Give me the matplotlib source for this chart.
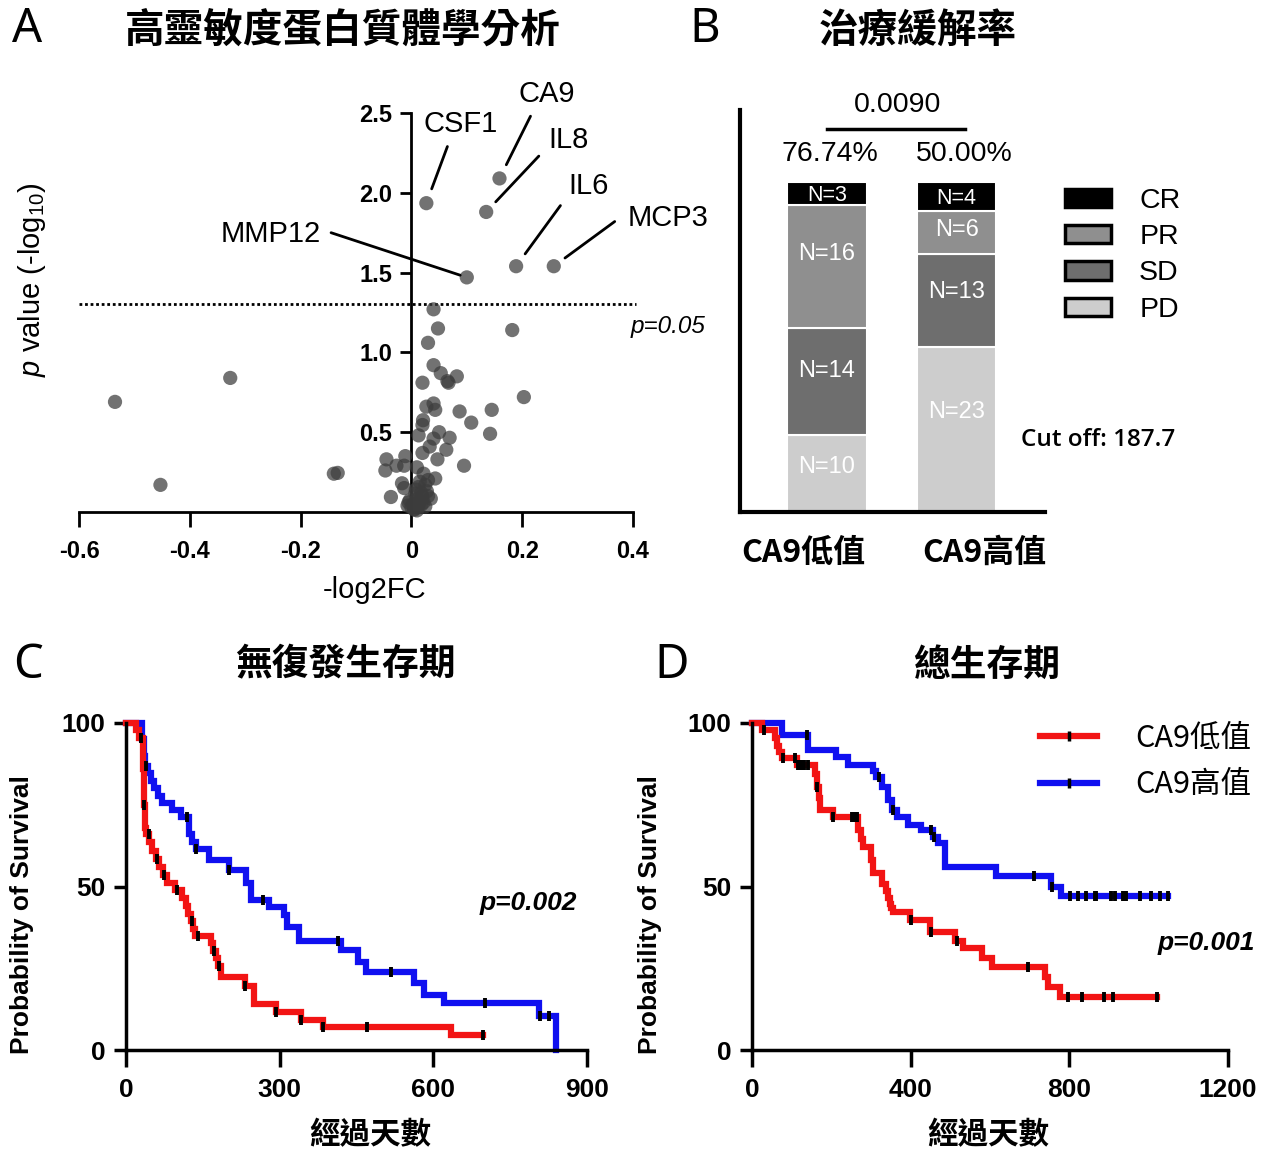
import numpy as np
import matplotlib
matplotlib.use("Agg")
import matplotlib.pyplot as plt
from matplotlib.patches import Patch
from matplotlib.lines import Line2D

# ---------------- data ----------------
# panel A: volcano (-log2FC, -log10 p)
vol_x = [0.027, 0.159, 0.135, 0.189, 0.257, 0.10, 0.04, 0.048, 0.03, 0.182,
         0.04, 0.053, 0.082, 0.065, 0.067, 0.02, 0.203, -0.535, -0.327, -0.453,
         -0.14, -0.133, 0.04, 0.027, 0.043, 0.087, 0.145, 0.108, 0.021, 0.02,
         0.142, 0.013, 0.05, 0.04, 0.069, 0.033, 0.063, 0.02, 0.047, 0.095,
         -0.045, -0.011, -0.047, -0.027, -0.013, 0.01, 0.022, 0.043, 0.015, -0.017,
         -0.013, -0.037, 0.035, -0.003, 0.007, 0.013, 0.003, -0.007, 0.02, 0.0,
         0.005, 0.01, 0.012, 0.018, 0.008, 0.025, 0.015, 0.03, 0.028,
         0.005, 0.012, 0.018, 0.022, 0.01, -0.005, 0.03, 0.025]
vol_y = [1.935, 2.09, 1.88, 1.54, 1.54, 1.47, 1.27, 1.15, 1.06, 1.14,
         0.92, 0.87, 0.85, 0.82, 0.81, 0.81, 0.72, 0.69, 0.84, 0.17,
         0.24, 0.245, 0.68, 0.66, 0.64, 0.63, 0.64, 0.56, 0.575, 0.545,
         0.49, 0.48, 0.50, 0.46, 0.465, 0.41, 0.39, 0.37, 0.33, 0.29,
         0.33, 0.35, 0.26, 0.29, 0.29, 0.28, 0.24, 0.21, 0.19, 0.18,
         0.15, 0.094, 0.084, 0.073, 0.115, 0.157, 0.05, 0.04, 0.094, 0.03,
         0.02, 0.01, 0.05, 0.12, 0.14, 0.17, 0.06, 0.2, 0.13,
         0.015, 0.03, 0.045, 0.06, 0.08, 0.06, 0.1, 0.035]
gene_names = ['CSF1', 'CA9', 'IL8', 'IL6', 'MCP3', 'MMP12']  # first six points

# panel B: response counts, bottom to top
groups = ['CA9低值', 'CA9高值']
resp_cats = ['PD', 'SD', 'PR', 'CR']
resp_low = [10, 14, 16, 3]
resp_high = [23, 13, 6, 4]
p_resp = '0.0090'
cutoff = 187.7

# panel C: relapse-free survival (days, % surviving)
rfs_low_t = [0, 19, 25, 33, 34, 35, 36, 37, 40, 45, 50, 58, 65, 72, 80, 95, 110,
             118, 122, 126, 130, 135, 165, 170, 175, 180, 186, 232, 250, 292, 341,
             384, 634, 697]
rfs_low_s = [100, 98, 95.5, 91, 86, 81, 75, 68, 66, 63.5, 61, 58.5, 56, 53.5, 51,
             49, 46.5, 44, 41.5, 39.5, 37, 35, 32.7, 30.4, 28.1, 25.8, 22.3, 19.5,
             14.2, 11.7, 9.3, 7.0, 4.5, 4.5]
rfs_low_cens = [30, 36, 44, 60, 75, 100, 128, 140, 172, 182, 232, 292, 341, 384, 471, 697]
rfs_high_t = [0, 32, 35, 38, 42, 48, 55, 62, 71, 90, 107, 123, 128, 136, 162, 201,
              234, 244, 279, 309, 315, 338, 420, 452, 468, 563, 582, 621, 806, 840]
rfs_high_s = [100, 95, 90, 87, 84.6, 82.3, 80, 77.7, 75.4, 73.4, 71.3, 66, 63.5,
              61.6, 58.1, 55, 51, 46, 43.8, 41.3, 37.7, 33.2, 30.6, 27, 24, 20.4,
              16.9, 14.3, 10.3, 0]
rfs_high_cens = [40, 120, 136, 201, 268, 413, 517, 701, 808, 825]

# panel D: overall survival
os_low_t = [0, 24, 58, 63, 68, 75, 113, 158, 163, 168, 172, 205, 268, 275, 281,
            301, 305, 327, 339, 343, 347, 351, 356, 398, 449, 512, 533, 579, 604,
            738, 747, 776, 1020]
os_low_s = [100, 97.9, 95.5, 93, 91, 89.2, 87.1, 84.5, 80.5, 77, 73.4, 71.3, 67.3,
            64.5, 62.2, 58, 54, 50.9, 48.5, 46.5, 44.5, 43.5, 42.3, 39.7, 36.2,
            33.2, 31.2, 28.1, 25.5, 22.4, 19.4, 16.3, 16.3]
os_low_cens = [29, 79, 108, 116, 124, 132, 140, 165, 205, 251, 258, 264, 402, 452,
               516, 697, 797, 831, 888, 911, 1020]
os_high_t = [0, 75, 142, 213, 243, 306, 313, 327, 343, 352, 365, 394, 427, 457,
             470, 487, 616, 755, 780, 1049]
os_high_s = [100, 96.3, 91.7, 89.7, 87.1, 85.3, 83.6, 80.5, 76.4, 73.4, 71.3, 68.8,
             67.3, 65.2, 63.2, 56.1, 53.3, 50, 47, 47]
os_high_cens = [138, 320, 355, 450, 460, 711, 757, 801, 822, 843, 864, 868, 906,
                915, 936, 944, 978, 1007, 1028, 1049]

# ---------------- style ----------------
plt.rcParams['font.family'] = ['Liberation Sans', 'Noto Sans CJK TC', 'DejaVu Sans']
plt.rcParams['mathtext.fontset'] = 'custom'
plt.rcParams['mathtext.rm'] = 'Liberation Sans'
plt.rcParams['mathtext.it'] = 'Liberation Sans:italic'
CJK = ['Noto Sans CJK TC', 'DejaVu Sans']
RED = '#f21414'
BLUE = '#1010f0'

W, H = 1262, 1157


def rect(l, t, r, b):
    return [l / W, 1 - b / H, (r - l) / W, (b - t) / H]


def fx(x):
    return x / W


def fy(y):
    return 1 - y / H


fig = plt.figure(figsize=(12.62, 11.57), dpi=100)

# panel letters and titles
for letter, (x, y) in zip('ABCD', [(27, 30), (705, 30), (28, 665), (672, 665)]):
    fig.text(fx(x), fy(y), letter, fontsize=34, family='Noto Sans', ha='center', va='center')
titles = ['高靈敏度蛋白質體學分析', '治療緩解率', '無復發生存期', '總生存期']
title_sizes = [28.5, 28.5, 26.5, 26.5]
for t, sz, (x, y) in zip(titles, title_sizes, [(343, 30), (918, 30), (345, 665), (987, 665)]):
    fig.text(fx(x), fy(y), t, fontsize=sz, family=CJK, weight='bold', ha='center', va='center')

# ---------------- A: volcano ----------------
axA = fig.add_axes(rect(79, 113, 633, 512))
axA.scatter(vol_x, vol_y, s=105, color='#3c3c3c', alpha=0.72, edgecolors='none',
            clip_on=False, zorder=3)
axA.set_xlim(-0.6, 0.4)
axA.set_ylim(0, 2.5)
axA.spines['top'].set_visible(False)
axA.spines['right'].set_visible(False)
axA.spines['left'].set_position(('data', 0))
for sp in ['left', 'bottom']:
    axA.spines[sp].set_linewidth(2)
axA.set_xticks([-0.6, -0.4, -0.2, 0, 0.2, 0.4])
axA.set_xticklabels(['-0.6', '-0.4', '-0.2', '0', '0.2', '0.4'])
axA.set_yticks([0.5, 1.0, 1.5, 2.0, 2.5])
axA.set_yticklabels(['0.5', '1.0', '1.5', '2.0', '2.5'])
axA.tick_params(axis='x', length=11, width=2, labelsize=17, pad=9)
axA.tick_params(axis='y', length=8, width=2, labelsize=17, pad=6)
for lb in axA.get_xticklabels() + axA.get_yticklabels():
    lb.set_fontweight('bold')
axA.axhline(-np.log10(0.05), xmin=0, xmax=1.005, color='k', lw=2, ls=(0, (1, 1)),
            clip_on=False)
axA.text(0.53, 1.16, 'p=0.05', style='italic', fontsize=17.5, ha='right', va='center')

# gene labels: (line start, text pos, text align, shrink at point)
label_style = {
    'CSF1': ((0.065, 2.29), (0.088, 2.43), 'center', 11),
    'CA9': ((0.215, 2.48), (0.245, 2.62), 'center', 11),
    'IL8': ((0.23, 2.23), (0.283, 2.33), 'center', 10),
    'IL6': ((0.269, 1.92), (0.32, 2.04), 'center', 11),
    'MCP3': ((0.367, 1.82), (0.39, 1.84), 'left', 10),
    'MMP12': ((-0.145, 1.75), (-0.164, 1.74), 'right', 5),
}
for i, g in enumerate(gene_names):
    start, tpos, ha, shr = label_style[g]
    axA.annotate('', xy=(vol_x[i], vol_y[i]), xytext=start,
                 arrowprops=dict(arrowstyle='-', lw=2, color='k', shrinkA=0, shrinkB=shr),
                 annotation_clip=False)
    axA.text(tpos[0], tpos[1], g, fontsize=21, ha=ha, va='center', clip_on=False)

fig.text(fx(375), fy(590), '-log2FC', fontsize=21, ha='center', va='center')
fig.text(fx(32), fy(280), r'$\it{p}$ value (-log$_{10}$)', fontsize=21, rotation=90,
         ha='center', va='center')

# ---------------- B: stacked response bars ----------------
axB = fig.add_axes(rect(740, 110, 1045, 512))
counts = np.array([resp_low, resp_high])
totals = counts.sum(axis=1)
pct = counts / totals[:, None] * 100
cat_colors = {'PD': '#cdcdcd', 'SD': '#6e6e6e', 'PR': '#8f8f8f', 'CR': '#000000'}
pos = np.arange(len(groups))
bottom = np.zeros(len(groups))
for j, cat in enumerate(resp_cats):
    axB.bar(pos, pct[:, j], 0.61, bottom=bottom, color=cat_colors[cat],
            edgecolor='white', linewidth=1.5)
    for i in range(len(groups)):
        h = pct[i, j]
        small = h < 10
        yc = bottom[i] + h / 2 + (0 if small else 0.12 * h)
        axB.text(pos[i], yc, f'N={counts[i, j]}', color='white',
                 fontsize=15.5 if small else 17, ha='center', va='center_baseline')
    bottom += pct[:, j]
axB.set_xlim(-0.67, 1.68)
axB.set_ylim(0, 121.8)
axB.set_xticks([])
axB.set_yticks([])
axB.spines['top'].set_visible(False)
axB.spines['right'].set_visible(False)
for sp in ['left', 'bottom']:
    axB.spines[sp].set_linewidth(3)

rate = (totals - counts[:, 0]) / totals * 100
for xp, r in zip([0.02, 1.06], rate):
    axB.text(xp, 108.5, f'{r:.2f}%', fontsize=20.5, ha='center', va='center')
axB.plot([0, 1.06], [116, 116], color='k', lw=2.5, clip_on=False)
axB.text(0.546, 123.2, p_resp, fontsize=20.5, ha='center', va='center', clip_on=False)
for xp, g in zip([-0.18, 1.215], groups):
    axB.text(xp, -12.4, g, fontsize=23, family=CJK, weight='bold', ha='center',
             va='center', clip_on=False)

leg_handles = [Patch(facecolor=cat_colors[c], edgecolor='k', linewidth=2.5, label=c)
               for c in ['CR', 'PR', 'SD', 'PD']]
axB.legend(handles=leg_handles, loc='upper left', bbox_to_anchor=(1.066, 324 / 402),
           frameon=False, fontsize=20.5, handlelength=1.6, handleheight=0.6,
           handletextpad=1.0, labelspacing=0.36, borderpad=0, borderaxespad=0)
fig.text(fx(1098), fy(440), f'Cut off: {cutoff}', fontsize=17.5, family='Open Sans',
         weight='semibold', ha='center', va='center')


# ---------------- C / D: Kaplan-Meier ----------------
def km(ax, t, s, cens, color):
    ax.step(t, s, where='post', color=color, lw=4.5, clip_on=False,
            solid_joinstyle='miter')
    t = np.asarray(t)
    s = np.asarray(s)
    idx = np.searchsorted(t, cens, side='right') - 1
    ax.plot(cens, s[idx], ls='none', marker='|', ms=7, mew=2.8, color='k',
            clip_on=False, zorder=4)


def km_axes(ax, xmax, xticks):
    ax.set_xlim(0, xmax)
    ax.set_ylim(0, 100)
    ax.set_xticks(xticks)
    ax.set_yticks([0, 50, 100])
    ax.spines['top'].set_visible(False)
    ax.spines['right'].set_visible(False)
    for sp in ['left', 'bottom']:
        ax.spines[sp].set_linewidth(2.5)
    ax.tick_params(axis='x', length=12, width=2.5, labelsize=19, pad=8)
    ax.tick_params(axis='y', length=9, width=2.5, labelsize=19, pad=6)
    for lb in ax.get_xticklabels() + ax.get_yticklabels():
        lb.set_fontweight('bold')


axC = fig.add_axes(rect(126, 723, 587, 1050))
km(axC, rfs_high_t, rfs_high_s, rfs_high_cens, BLUE)
km(axC, rfs_low_t, rfs_low_s, rfs_low_cens, RED)
km_axes(axC, 900, [0, 300, 600, 900])

axD = fig.add_axes(rect(752, 723, 1228, 1050))
km(axD, os_high_t, os_high_s, os_high_cens, BLUE)
km(axD, os_low_t, os_low_s, os_low_cens, RED)
km_axes(axD, 1200, [0, 400, 800, 1200])

km_handles = [Line2D([], [], color=RED, lw=4.5, marker='|', ms=7, mew=2.5, mec='k'),
              Line2D([], [], color=BLUE, lw=4.5, marker='|', ms=7, mew=2.5, mec='k')]
axD.legend(km_handles, groups, loc='upper left', bbox_to_anchor=(0.605, 1.0),
           frameon=False, prop={'family': CJK, 'size': 22}, handlelength=1.87,
           handletextpad=1.25, labelspacing=0.5, borderpad=0, borderaxespad=0,
           numpoints=1)

for x in [22, 650]:
    fig.text(fx(x), fy(915), 'Probability of Survival', fontsize=19, weight='bold',
             rotation=90, ha='center', va='center')
for x in [370, 988]:
    fig.text(fx(x), fy(1135), '經過天數', fontsize=22, family=CJK, weight='bold',
             ha='center', va='center')
fig.text(fx(577), fy(903), 'p=0.002', fontsize=19, weight='bold', style='italic',
         ha='right', va='center')
fig.text(fx(1255), fy(943), 'p=0.001', fontsize=19, weight='bold', style='italic',
         ha='right', va='center')

fig.savefig('out.png', dpi=100)
